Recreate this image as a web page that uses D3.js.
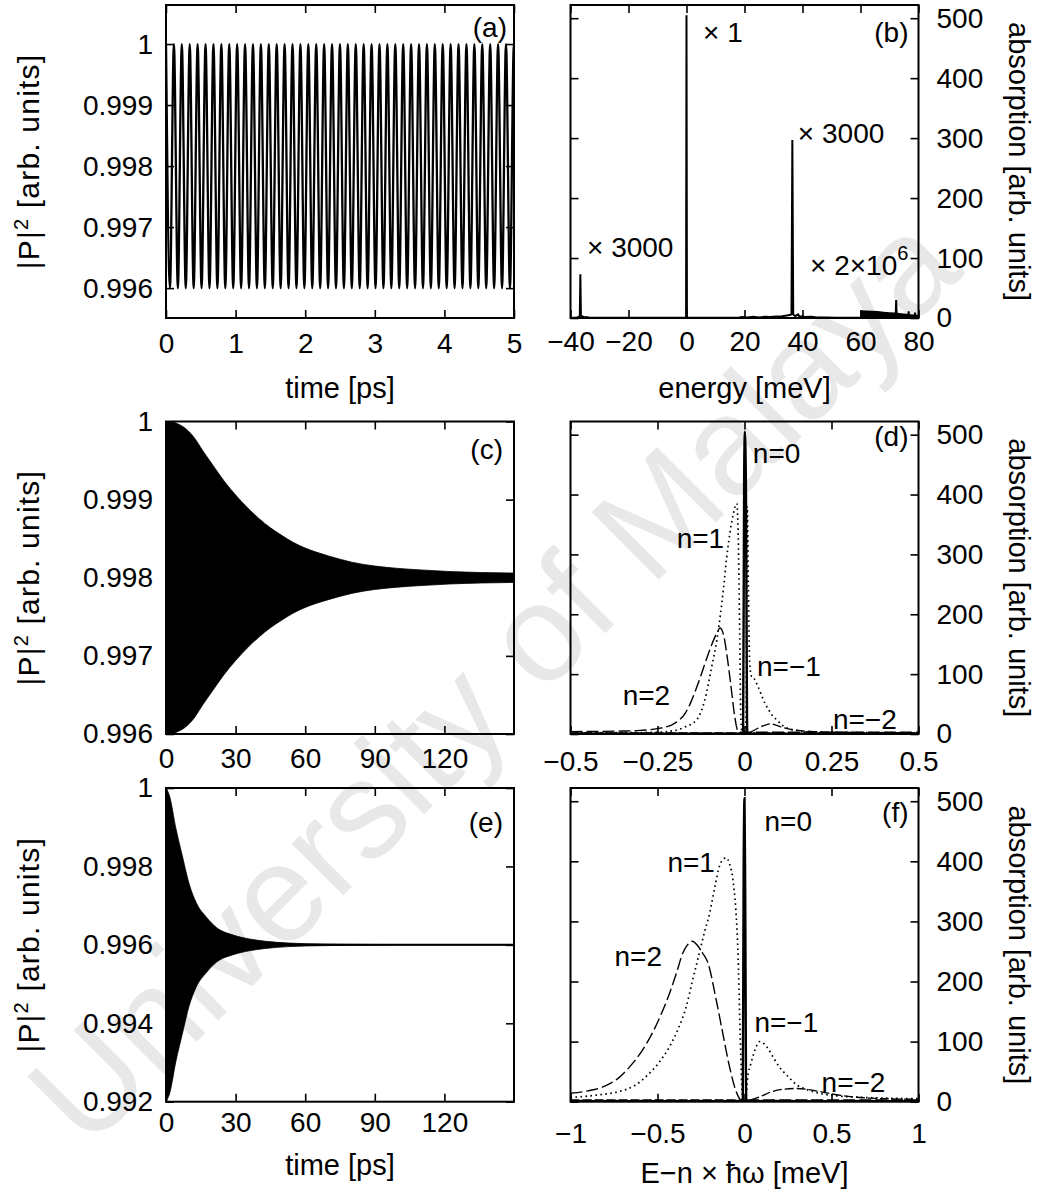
<!DOCTYPE html>
<html lang="en">
<head>
<meta charset="utf-8">
<title>|P|^2 and absorption panels</title>
<script src="https://cdnjs.cloudflare.com/ajax/libs/d3/7.8.5/d3.min.js"></script>
<style>
  body { margin: 0; background: #fff; }
  svg text { font-family: 'Liberation Sans', Arial, Helvetica, sans-serif; fill: #000; }
</style>
</head>
<body>
<svg id="fig" width="1040" height="1193"></svg>
<script>
// ---- values ----

// (a) |P|^2 over the first 5 ps, a fast beat between two levels
var aHigh = 1.0, aLow = 0.996;
var aPeriod = 0.1136;   // ps, about 44 cycles in the window
var aEnd = 5;

// (c) envelope of the (unresolved) oscillation, half width in 1e-3 around 0.998
var cCentre = 0.998;
var cTime = [0, 2, 5, 8, 12, 16, 20, 25, 30, 35, 40, 45, 50, 55, 60, 70, 80, 90, 100, 110, 122, 136, 150];
var cAmp  = [2.0, 2.0, 1.97, 1.92, 1.8, 1.62, 1.45, 1.24, 1.06, 0.9, 0.76, 0.64, 0.54, 0.45, 0.38, 0.28, 0.2, 0.15, 0.12, 0.1, 0.08, 0.067, 0.06];

// (e) same, faster damping, centre 0.996
var eCentre = 0.996;
var eTime = [0, 1.5, 4.3, 7.2, 10, 13, 17.5, 21.8, 29, 36, 43, 53, 68, 88, 110, 150];
var eAmp  = [4.0, 3.8, 2.96, 2.23, 1.55, 1.08, 0.7, 0.44, 0.25, 0.15, 0.09, 0.045, 0.02, 0.01, 0.006, 0.005];

// (b) absorption spectrum [energy meV, absorption]
var bLine = [[-40, 0.5], [-37.8, 0.5], [-37.2, 2], [-36.8, 1], [-36.6, 73], [-36.4, 1], [-36, 3], [-35.2, 1], [-34.5, 1.5], [-33.5, 0.5], [-30, 0.3],
  [-0.5, 0.3], [-0.15, 0], [0, 505], [0.15, 0], [0.5, 0.3],
  [18, 0.5], [19, 1.5], [21, 1], [23, 2], [25, 1], [27, 2], [29, 1.5], [31, 2.5], [33, 3], [34.5, 4], [35.5, 5], [36.2, 6], [36.5, 297], [36.8, 6],
  [37.5, 3], [38.5, 6], [39, 2], [40, 3], [41, 1.5], [43, 2], [45, 1], [48, 1], [52, 0.5], [60, 0.5]];
var bBandE   = [59.8, 60, 62, 64, 66, 68, 70, 72, 74, 76, 78, 80];
var bBandTop = [0, 13, 12.5, 12, 11.5, 10.5, 9.5, 9, 8, 7, 6, 5];
var bBandSpikes = [[72.1, 0], [72.3, 30], [72.5, 0], [76.4, 0], [76.6, 11], [76.8, 0], [78.6, 0], [78.8, 9], [79, 0]];
var bNotes = [{e: -34.3, v: 102, t: "\u00d7 3000"}, {e: 5.7, v: 460, t: "\u00d7 1"},
              {e: 38.4, v: 292, t: "\u00d7 3000"}, {e: 42.6, v: 72, t: "\u00d7 2\u00d710", sup: "6"}];

// (d) sidebands, E - n*hw in meV
var dSeries = {
  "2":  [[-0.5, 4], [-0.35, 5], [-0.3, 6], [-0.25, 9], [-0.21, 15], [-0.19, 22], [-0.17, 35], [-0.155, 52], [-0.14, 74], [-0.125, 98], [-0.11, 124],
         [-0.095, 148], [-0.08, 168], [-0.07, 177], [-0.06, 165], [-0.05, 130], [-0.04, 85], [-0.028, 29], [-0.02, 6], [-0.015, 3], [0.5, 3]],
  "1":  [[-0.5, 2], [-0.3, 2.5], [-0.25, 3], [-0.2, 6], [-0.17, 12], [-0.137, 24], [-0.115, 55], [-0.094, 113], [-0.08, 155], [-0.07, 196], [-0.06, 245],
         [-0.051, 296], [-0.042, 335], [-0.032, 368], [-0.022, 385], [-0.018, 330], [-0.014, 180], [-0.011, 40], [-0.008, 5], [0, 2], [0.5, 2]],
  "-1": [[-0.5, 1], [0, 1], [0.004, 5], [0.008, 380], [0.011, 250], [0.015, 120], [0.02, 97], [0.025, 96], [0.03, 90], [0.04, 78], [0.05, 63],
         [0.06, 50], [0.07, 40], [0.08, 31], [0.092, 24], [0.11, 14], [0.14, 7], [0.2, 3], [0.5, 2]],
  "-2": [[-0.5, 2], [0, 2], [0.02, 4], [0.04, 10], [0.06, 15], [0.075, 17], [0.09, 15], [0.11, 11], [0.14, 7], [0.2, 4], [0.25, 3], [0.5, 2]],
  "0":  [[-0.5, 0.5], [-0.008, 0.5], [-0.004, 0], [-0.001, 430], [0.001, 505], [0.004, 420], [0.008, 0], [0.012, 0.5], [0.5, 0.5]]
};
var dNotes = [{n: "0", e: 0.024, v: 452}, {n: "1", e: -0.195, v: 310}, {n: "2", e: -0.35, v: 49}, {n: "\u22121", e: 0.036, v: 97}, {n: "\u22122", e: 0.254, v: 9}];

// (f) sidebands, wider window
var fSeries = {
  "2":  [[-1, 14], [-0.9, 18], [-0.81, 25], [-0.73, 38], [-0.66, 58], [-0.6, 80], [-0.53, 114], [-0.48, 145], [-0.43, 181], [-0.39, 215], [-0.355, 247],
         [-0.33, 260], [-0.3, 267], [-0.27, 260], [-0.24, 247], [-0.21, 231], [-0.163, 170], [-0.125, 114], [-0.086, 58], [-0.048, 17], [-0.02, 3], [0.2, 3], [1, 3]],
  "1":  [[-1, 7], [-0.85, 11], [-0.72, 17], [-0.63, 27], [-0.565, 42], [-0.5, 62], [-0.43, 92], [-0.38, 122], [-0.335, 158], [-0.3, 200], [-0.26, 247],
         [-0.23, 282], [-0.2, 314], [-0.17, 358], [-0.144, 392], [-0.12, 404], [-0.105, 406], [-0.085, 395], [-0.067, 370], [-0.05, 320], [-0.038, 253],
         [-0.025, 114], [-0.013, 14], [-0.005, 2], [1, 2]],
  "-1": [[-1, 2], [0, 2], [0.008, 5], [0.019, 42], [0.035, 62], [0.048, 75], [0.065, 90], [0.086, 100], [0.11, 97], [0.134, 89], [0.165, 74], [0.2, 58],
         [0.25, 42], [0.3, 28], [0.36, 20], [0.43, 14], [0.52, 10], [0.62, 8], [0.8, 6], [1, 5]],
  "-2": [[-1, 3], [0.03, 3], [0.086, 8], [0.16, 17], [0.23, 21], [0.3, 22], [0.37, 20], [0.43, 17], [0.52, 12], [0.62, 8], [0.8, 5], [1, 4]],
  "0":  [[-1, 1], [-0.02, 1], [-0.01, 0], [-0.005, 380], [0, 505], [0.004, 350], [0.01, 0], [0.02, 1], [1, 1]]
};
var fNotes = [{n: "0", e: 0.115, v: 451}, {n: "1", e: -0.443, v: 382}, {n: "2", e: -0.747, v: 226}, {n: "\u22121", e: 0.057, v: 116}, {n: "\u22122", e: 0.443, v: 16}];

// ticks
var aXTicks = [0, 1, 2, 3, 4, 5];
var aYTicks = [0.996, 0.997, 0.998, 0.999, 1];
var bXTicks = [-40, -20, 0, 20, 40, 60, 80];
var absTicks = [0, 100, 200, 300, 400, 500];
var cXTicks = [0, 30, 60, 90, 120];
var cYTicks = [0.996, 0.997, 0.998, 0.999, 1];
var dXTicks = [-0.5, -0.25, 0, 0.25, 0.5];
var eYTicks = [0.992, 0.994, 0.996, 0.998, 1];
var fXTicks = [-1, -0.5, 0, 0.5, 1];

// line styles of the sidebands
var nStyle = {
  "2":  {w: 1.4, dash: "12,4"},
  "1":  {w: 1.7, dash: "1.6,3.4"},
  "-1": {w: 1.7, dash: "1.6,3.4"},
  "-2": {w: 1.3, dash: "9,3"},
  "0":  {w: 2.4, dash: null}
};

// ---- drawing ----
var svg = d3.select("#fig");
var fmt = d3.format("");
var none = function() { return ""; };
var clipCount = 0;

// watermark, behind everything
svg.append("text")
  .attr("transform", "translate(492,678) rotate(-45)")
  .attr("text-anchor", "middle")
  .attr("dy", "0.35em")
  .attr("font-size", 138)
  .style("fill", "#e8e8e8")
  .text("University of Malaya");

var colL = [166, 514], colR = [570.5, 918.5];
var rows = [[5, 318], [421.5, 734], [788, 1101.7]];

function panel(col, row, xDom, yDom) {
  var x = d3.scaleLinear().domain(xDom).range(col);
  var y = d3.scaleLinear().domain(yDom).range([row[1], row[0]]);
  var g = svg.append("g");
  var id = "clip" + (clipCount++);
  g.append("clipPath").attr("id", id).append("rect")
    .attr("x", col[0]).attr("y", row[0])
    .attr("width", col[1] - col[0]).attr("height", row[1] - row[0]);
  var plot = g.append("g").attr("clip-path", "url(#" + id + ")");
  return {g: g, plot: plot, x: x, y: y};
}

function styleAxis(sel) {
  sel.attr("font-size", 28).attr("font-family", null);
  sel.selectAll(".domain").remove();
  sel.selectAll(".tick line").attr("stroke-width", 1.6);
}

// frame with inward ticks on all four sides, labels left or right
function axes(p, o) {
  var x = p.x, y = p.y, xr = x.range(), yr = y.range();
  p.g.append("g").attr("transform", "translate(0," + yr[0] + ")")
    .call(d3.axisBottom(x).tickValues(o.xTicks).tickSize(-8).tickSizeOuter(0).tickPadding(o.xPad).tickFormat(fmt))
    .call(styleAxis);
  p.g.append("g").attr("transform", "translate(0," + yr[1] + ")")
    .call(d3.axisTop(x).tickValues(o.xTicks).tickSize(-8).tickSizeOuter(0).tickFormat(none))
    .call(styleAxis);
  p.g.append("g").attr("transform", "translate(" + xr[0] + ",0)")
    .call(d3.axisLeft(y).tickValues(o.yTicks).tickSize(-8).tickSizeOuter(0).tickPadding(13).tickFormat(o.right ? none : fmt))
    .call(styleAxis);
  p.g.append("g").attr("transform", "translate(" + xr[1] + ",0)")
    .call(d3.axisRight(y).tickValues(o.yTicks).tickSize(-8).tickSizeOuter(0).tickPadding(18).tickFormat(o.right ? fmt : none))
    .call(styleAxis);
  p.g.append("rect")
    .attr("x", xr[0]).attr("y", yr[1])
    .attr("width", xr[1] - xr[0]).attr("height", yr[0] - yr[1])
    .attr("fill", "none").attr("stroke", "#000").attr("stroke-width", 2);
  p.g.append("text")
    .attr("x", xr[1] - o.tagDx).attr("y", yr[1] + o.tagDy)
    .attr("text-anchor", "end").attr("font-size", 28)
    .text(o.tag);
}

function leftTitle(row) {
  var t = svg.append("text")
    .attr("transform", "translate(39," + (row[0] + row[1]) / 2 + ") rotate(-90)")
    .attr("text-anchor", "middle").attr("font-size", 30)
    .attr("letter-spacing", 1.2);
  t.append("tspan").text("|P|");
  t.append("tspan").attr("font-size", 20).attr("dy", -11).text("2");
  t.append("tspan").attr("dy", 11).text(" [arb. units]");
}

function rightTitle(row) {
  svg.append("text")
    .attr("transform", "translate(1009," + (row[0] + row[1]) / 2 + ") rotate(90)")
    .attr("text-anchor", "middle").attr("font-size", 29)
    .text("absorption [arb. units]");
}

function bottomTitle(col, y, label) {
  svg.append("text")
    .attr("x", (col[0] + col[1]) / 2).attr("y", y)
    .attr("text-anchor", "middle").attr("font-size", 29)
    .text(label);
}

// (a)
var pa = panel(colL, rows[0], [0, 5], [0.99551, 1.00064]);
var aTurns = d3.range(0, Math.round(aEnd / (aPeriod / 2)) + 2).map(function(i) {
  return [i * aPeriod / 2, i % 2 ? aLow : aHigh];
});
pa.plot.append("path").datum(aTurns)
  .attr("d", d3.line().x(function(d) { return pa.x(d[0]); }).y(function(d) { return pa.y(d[1]); }).curve(d3.curveMonotoneX))
  .attr("fill", "none").attr("stroke", "#000").attr("stroke-width", 2.3);
axes(pa, {xTicks: aXTicks, yTicks: aYTicks, xPad: 15, tag: "(a)", tagDx: 7, tagDy: 32});

// (b)
var pb = panel(colR, rows[0], [-40, 80], [0, 522]);
var bBand = bBandE.map(function(e, i) { return [e, bBandTop[i]]; });
pb.plot.append("path").datum(bBand)
  .attr("d", d3.area().x(function(d) { return pb.x(d[0]); }).y0(pb.y(0)).y1(function(d) { return pb.y(d[1]); }))
  .attr("fill", "#000");
[bLine, bBandSpikes].forEach(function(s) {
  pb.plot.append("path").datum(s)
    .attr("d", d3.line().x(function(d) { return pb.x(d[0]); }).y(function(d) { return pb.y(d[1]); }))
    .attr("fill", "none").attr("stroke", "#000").attr("stroke-width", 2);
});
axes(pb, {xTicks: bXTicks, yTicks: absTicks, xPad: 13, right: true, tag: "(b)", tagDx: 10, tagDy: 37});
bNotes.forEach(function(n) {
  var t = svg.append("text").attr("x", pb.x(n.e)).attr("y", pb.y(n.v)).attr("font-size", 28).text(n.t);
  if (n.sup) t.append("tspan").attr("font-size", 20).attr("dy", -15).text(n.sup);
});

// (c)
var pc = panel(colL, rows[1], [0, 150], [0.996, 1]);
var cData = cTime.map(function(t, i) { return {t: t, hi: cCentre + cAmp[i] * 1e-3, lo: cCentre - cAmp[i] * 1e-3}; });
pc.plot.append("path").datum(cData)
  .attr("d", d3.area().x(function(d) { return pc.x(d.t); }).y0(function(d) { return pc.y(d.lo); }).y1(function(d) { return pc.y(d.hi); }).curve(d3.curveMonotoneX))
  .attr("fill", "#000").attr("stroke", "#000").attr("stroke-width", 0.8);
axes(pc, {xTicks: cXTicks, yTicks: cYTicks, xPad: 14, tag: "(c)", tagDx: 11, tagDy: 37});

// (d)
function sidebands(p, series) {
  ["2", "1", "-1", "-2", "0"].forEach(function(n) {
    var st = nStyle[n];
    p.plot.append("path").datum(series[n])
      .attr("d", d3.line().x(function(d) { return p.x(d[0]); }).y(function(d) { return p.y(d[1]); }).curve(d3.curveMonotoneX))
      .attr("fill", "none").attr("stroke", "#000")
      .attr("stroke-width", st.w).attr("stroke-dasharray", st.dash);
  });
}
function nLabels(p, notes) {
  notes.forEach(function(n) {
    svg.append("text").attr("x", p.x(n.e)).attr("y", p.y(n.v)).attr("font-size", 28).text("n=" + n.n);
  });
}
var pd = panel(colR, rows[1], [-0.5, 0.5], [0, 522]);
sidebands(pd, dSeries);
axes(pd, {xTicks: dXTicks, yTicks: absTicks, xPad: 17, right: true, tag: "(d)", tagDx: 10, tagDy: 24});
nLabels(pd, dNotes);

// (e)
var pe = panel(colL, rows[2], [0, 150], [0.992, 1]);
var eData = eTime.map(function(t, i) { return {t: t, hi: eCentre + eAmp[i] * 1e-3, lo: eCentre - eAmp[i] * 1e-3}; });
pe.plot.append("path").datum(eData)
  .attr("d", d3.area().x(function(d) { return pe.x(d.t); }).y0(function(d) { return pe.y(d.lo); }).y1(function(d) { return pe.y(d.hi); }).curve(d3.curveMonotoneX))
  .attr("fill", "#000").attr("stroke", "#000").attr("stroke-width", 0.8);
pe.plot.append("line")
  .attr("x1", pe.x(0)).attr("x2", pe.x(150)).attr("y1", pe.y(eCentre)).attr("y2", pe.y(eCentre))
  .attr("stroke", "#000").attr("stroke-width", 2);
axes(pe, {xTicks: cXTicks, yTicks: eYTicks, xPad: 10, tag: "(e)", tagDx: 11, tagDy: 44});

// (f)
var pf = panel(colR, rows[2], [-1, 1], [0, 522]);
sidebands(pf, fSeries);
axes(pf, {xTicks: fXTicks, yTicks: absTicks, xPad: 21, right: true, tag: "(f)", tagDx: 10, tagDy: 34});
nLabels(pf, fNotes);

// axis titles
rows.forEach(function(r) { leftTitle(r); rightTitle(r); });
bottomTitle(colL, 398, "time [ps]");
bottomTitle(colR, 398, "energy [meV]");
bottomTitle(colL, 1175, "time [ps]");
bottomTitle(colR, 1183, "E\u2212n \u00d7 \u0127\u03c9 [meV]");
</script>
</body>
</html>
